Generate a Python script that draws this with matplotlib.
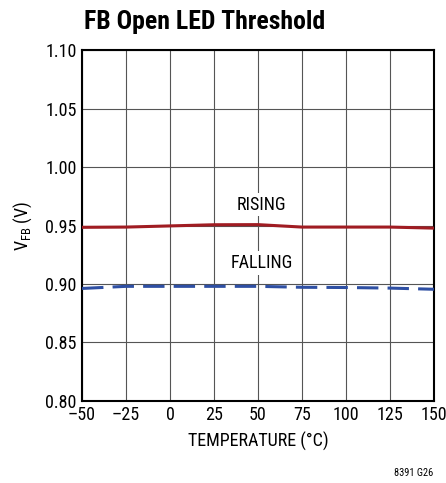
import numpy as np
import matplotlib.pyplot as plt
from matplotlib import font_manager

# pick a condensed family if one is around
names = set(f.name for f in font_manager.fontManager.ttflist)
fam = 'DejaVu Sans'
for cand in ['Liberation Sans Narrow', 'Roboto Condensed', 'Open Sans Condensed',
             'DejaVu Sans Condensed', 'Liberation Sans']:
    if cand in names:
        fam = cand
        break
plt.rcParams['font.family'] = [fam, 'DejaVu Sans']
narrow = fam in ('Liberation Sans Narrow', 'Roboto Condensed', 'Open Sans Condensed')
fs = 13 if narrow else 11.5

temp = [-50, -25, 0, 25, 50, 75, 100, 125, 150]
rising = [0.9485, 0.9487, 0.9497, 0.9507, 0.9508, 0.9487, 0.9487, 0.9487, 0.9478]
falling = [0.8962, 0.8980, 0.8980, 0.8980, 0.8980, 0.8972, 0.8970, 0.8965, 0.8955]

fig = plt.figure(figsize=(4.46, 4.83), dpi=100)
ax = fig.add_axes([0.184, 0.170, 0.789, 0.726])

ax.plot(temp, rising, color='#a01c22', lw=2.2, zorder=3)
ax.plot(temp, falling, color='#2e4fa3', lw=2.2, dashes=(7, 3), zorder=3)

ax.set_xlim(-50, 150)
ax.set_ylim(0.80, 1.10)
ax.set_xticks(temp)
ax.set_xticklabels(['\u201350', '\u201325', '0', '25', '50', '75', '100', '125', '150'])
ax.set_yticks(np.arange(0.80, 1.101, 0.05))
ax.set_yticklabels(['0.80', '0.85', '0.90', '0.95', '1.00', '1.05', '1.10'])
ax.tick_params(length=0, labelsize=fs, pad=4)
ax.grid(True, color='#555555', lw=0.8)
for s in ax.spines.values():
    s.set_linewidth(1.5)

ax.set_xlabel('TEMPERATURE (\u00b0C)', fontsize=fs, labelpad=5)
ax.set_ylabel('V$_{\\mathregular{FB}}$ (V)', fontsize=fs, labelpad=8)

box = dict(facecolor='white', edgecolor='none', pad=2)
ax.text(52, 0.968, 'RISING', ha='center', va='center', fontsize=fs, bbox=box, zorder=4)
ax.text(52, 0.918, 'FALLING', ha='center', va='center', fontsize=fs, bbox=box, zorder=4)

fig.text(0.188, 0.955, 'FB Open LED Threshold', fontsize=18.5 if narrow else 15,
         fontweight='bold', va='center')
fig.text(0.971, 0.021, '8391 G26', fontsize=7.5, ha='right', va='center')

fig.savefig('out.png', dpi=100)
